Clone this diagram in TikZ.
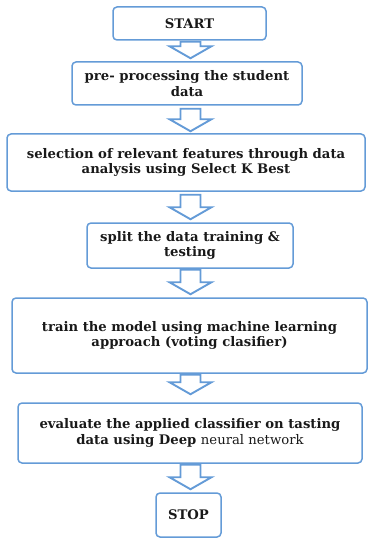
\documentclass[tikz,border=0pt]{standalone}
\usepackage{fontspec}
\setmainfont{DejaVu Serif}
\usetikzlibrary{calc}
\definecolor{bblue}{RGB}{100,155,215}
\definecolor{txt}{RGB}{25,25,25}
\tikzset{
  box/.style={draw=bblue, line width=1.5pt, rounded corners=4pt, align=center,
    text=txt, font=\bfseries\fontsize{13.2}{15.5}\selectfont, inner sep=0pt},
  blk/.style={draw=bblue, line width=1.9pt, line join=miter, fill=white},
}
% block arrow from node #1 to node #2; #3 gap below #1, #4 gap above #2
\newcommand\blkarrow[4]{%
  \draw[blk] let \p1=(#1.south), \p2=(#2.north) in
    (180.5pt,\y1-#3pt) -- (200.5pt,\y1-#3pt) -- (200.5pt,\y2+#4pt+12pt)
    -- (211.5pt,\y2+#4pt+12pt) -- (190.5pt,\y2+#4pt) -- (169.5pt,\y2+#4pt+12pt)
    -- (180.5pt,\y2+#4pt+12pt) -- cycle;}
\begin{document}
\begin{tikzpicture}[x=1pt,y=-1pt]
\useasboundingbox (0,0) rectangle (371,540);
\node[box, minimum width=153pt, minimum height=33pt] (n1) at (189.5,23.5) {START};
\node[box, minimum width=230pt, minimum height=43pt] (n2) at (187,83.5) {pre- processing the student\\data};
\node[box, minimum width=358pt, minimum height=57pt] (n3) at (186,162.5) {selection of relevant features through data\\analysis using Select K Best};
\node[box, minimum width=206pt, minimum height=45pt] (n4) at (190,245.5) {split the data training \&\\testing};
\node[box, minimum width=355pt, minimum height=75pt] (n5) at (189.5,335.5) {train the model using machine learning\\approach (voting clasifier)};
\node[box, minimum width=344pt, minimum height=60pt] (n6) at (190,433) {evaluate the applied classifier on tasting\\data using Deep {\mdseries neural network}};
\node[box, minimum width=65pt, minimum height=44pt] (n7) at (188.5,515) {STOP};
\blkarrow{n1}{n2}{1}{3}
\blkarrow{n2}{n3}{3}{2}
\blkarrow{n3}{n4}{3}{3}
\blkarrow{n4}{n5}{1}{3}
\blkarrow{n5}{n6}{1}{8}
\blkarrow{n6}{n7}{1}{3}
\end{tikzpicture}
\end{document}
